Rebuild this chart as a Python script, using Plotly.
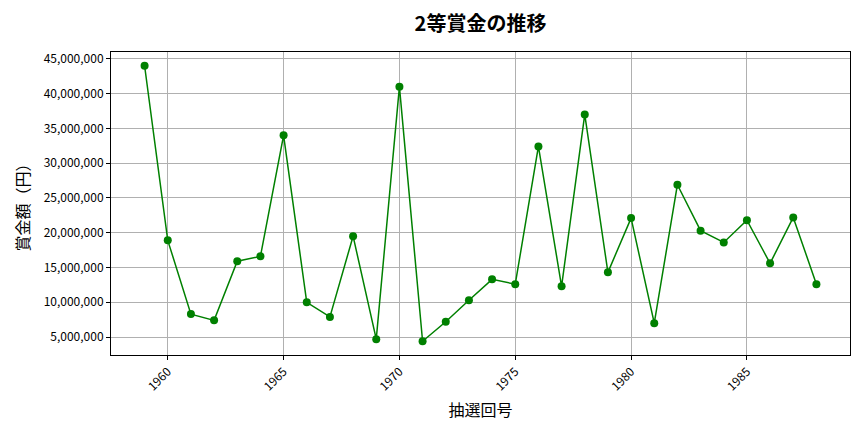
import plotly.graph_objects as go

# 抽選回 (年) と 2等賞金 (円)
years = list(range(1959, 1989))
prize = [44000000, 18900000, 8300000, 7400000, 15900000, 16600000, 34000000,
         10000000, 7900000, 19500000, 4700000, 41000000, 4400000, 7200000,
         10300000, 13300000, 12600000, 32400000, 12300000, 37000000, 14300000,
         22100000, 7000000, 26900000, 20300000, 18600000, 21800000, 15600000,
         22200000, 12600000]
x_ticks = [1960, 1965, 1970, 1975, 1980, 1985]
y_ticks = list(range(5000000, 45000001, 5000000))

font = "Noto Sans CJK JP"

fig = go.Figure()
fig.add_trace(go.Scatter(x=years, y=prize, mode="lines+markers",
                         line=dict(color="green", width=1.5),
                         marker=dict(color="green", size=8)))

axis_common = dict(showline=True, mirror=True, linecolor="black", linewidth=1,
                   showgrid=True, gridcolor="#b0b0b0", gridwidth=0.8,
                   ticks="outside", ticklen=4, tickcolor="black", zeroline=False,
                   automargin=False,
                   tickfont=dict(family=font, size=12, color="black"))

# the page puts the figure 8px in from the top-left corner
fig.update_layout(
    width=864, height=432,
    margin=dict(l=103, r=22, t=44, b=85),
    paper_bgcolor="white", plot_bgcolor="white",
    showlegend=False,
    title=dict(text="<b>2等賞金の推移</b>", x=0.5, xref="paper", xanchor="center",
               y=1 - 16 / 432, yanchor="middle",
               font=dict(family=font, size=20, color="black")),
    xaxis=dict(axis_common, range=[1957.55, 1989.45], tickvals=x_ticks,
               tickangle=-45,
               title=dict(text="抽選回号", standoff=12,
                          font=dict(family=font, size=16, color="black"))),
    yaxis=dict(axis_common, range=[2420000, 45980000], tickvals=y_ticks,
               tickformat=",d",
               title=dict(text="賞金額（円）", standoff=10,
                          font=dict(family=font, size=16, color="black"))),
)

fig.write_html("out.html")
